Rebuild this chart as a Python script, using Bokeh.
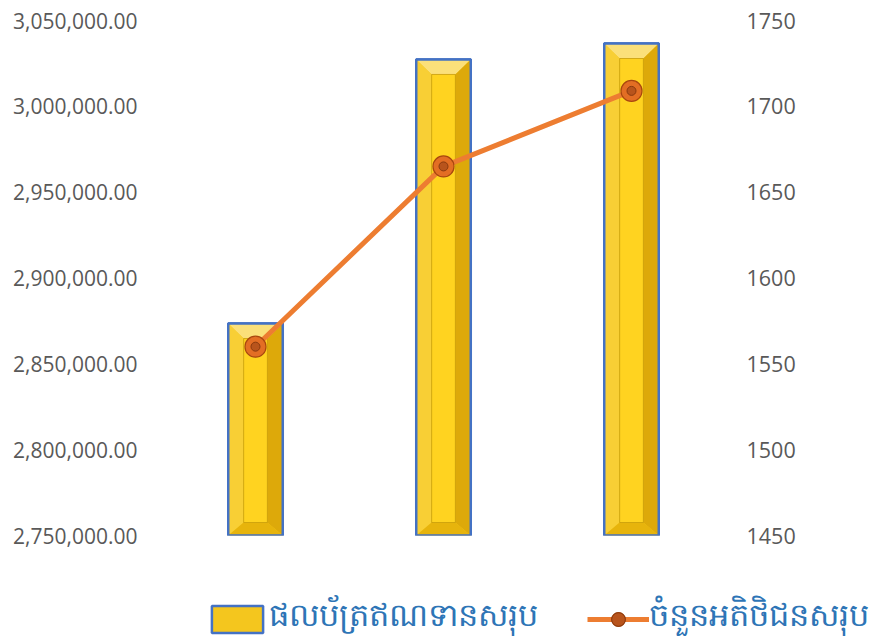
from bokeh.plotting import figure
from bokeh.models import (Range1d, LinearAxis, FixedTicker, NumeralTickFormatter,
                          Legend, LegendItem)
from bokeh.layouts import column
from bokeh.embed import file_html
from bokeh.resources import INLINE

# ---- data ----
categories = ["1", "2", "3"]
credit_portfolio = [2873500, 3027300, 3036600]   # ផលប័ត្រឥណទានសរុប
customers = [1560, 1665, 1709]                    # ចំនួនអតិថិជនសរុប
left_ticks = [2750000, 2800000, 2850000, 2900000, 2950000, 3000000, 3050000]
right_ticks = [1450, 1500, 1550, 1600, 1650, 1700, 1750]
label_bars = "ផលប័ត្រឥណទានសរុប"
label_line = "ចំនួនអតិថិជនសរុប"

FONT = "Open Sans"
GREY = "#595959"
BAR_FILL, BAR_LINE = "#F4C61E", "#4472C4"
LINE_COL = "#ED7D31"

AXIS_H = 515
TOP, BOTTOM = 20, 14
l_span = left_ticks[-1] - left_ticks[0]
xs = list(range(len(categories)))
base = left_ticks[0]

p = figure(x_range=Range1d(-0.5, len(categories) - 0.5),
           y_range=Range1d(left_ticks[0], left_ticks[-1]),
           frame_width=564, frame_height=AXIS_H,
           min_border_left=161, min_border_right=148,
           min_border_top=TOP, min_border_bottom=BOTTOM,
           output_backend="svg", toolbar_location=None,
           background_fill_color="white", border_fill_color="white")
p.frame_align = False
p.outline_line_color = None
p.xgrid.visible = False
p.ygrid.visible = False
p.xaxis.visible = False

ya = p.yaxis[0]
ya.ticker = FixedTicker(ticks=left_ticks)
ya.formatter = NumeralTickFormatter(format="0,0.00")

p.extra_y_ranges = {"cust": Range1d(right_ticks[0], right_ticks[-1])}
ra = LinearAxis(y_range_name="cust", ticker=FixedTicker(ticks=right_ticks))
p.add_layout(ra, "right")

for ax in (ya, ra):
    ax.axis_line_color = None
    ax.major_tick_line_color = None
    ax.minor_tick_line_color = None
    ax.major_label_text_font = FONT
    ax.major_label_text_font_size = "21px"
    ax.major_label_text_color = GREY
ya.major_label_standoff = 18
ra.major_label_standoff = 15
ra.major_label_text_font_size = "21.5px"

# ---- bars with bevel ----
w, wi = 0.145, 0.063
per_px = l_span / AXIS_H
pt, pb = 15 * per_px, 13 * per_px

def trap(kind):
    xs_l, ys_l = [], []
    for x, v in zip(xs, credit_portfolio):
        it, ib = v - pt, base + pb
        if kind == "top":
            xs_l.append([x - w, x + w, x + wi, x - wi]); ys_l.append([v, v, it, it])
        elif kind == "left":
            xs_l.append([x - w, x - wi, x - wi, x - w]); ys_l.append([v, it, ib, base])
        elif kind == "right":
            xs_l.append([x + w, x + wi, x + wi, x + w]); ys_l.append([v, it, ib, base])
        else:
            xs_l.append([x - w, x + w, x + wi, x - wi]); ys_l.append([base, base, ib, ib])
    return xs_l, ys_l

p.vbar(x=xs, top=credit_portfolio, bottom=base, width=2 * w,
       fill_color=BAR_FILL, line_color=BAR_LINE, line_width=2.5)
for kind, col in (("top", "#FBE07A"), ("left", "#F8CF35"),
                  ("right", "#DDA90A"), ("bottom", "#E7B40C")):
    tx, ty = trap(kind)
    p.patches(xs=tx, ys=ty, fill_color=col, line_color=None)
p.quad(left=[x - wi for x in xs], right=[x + wi for x in xs],
       top=[v - pt for v in credit_portfolio], bottom=base + pb,
       fill_color="#FFD320", line_color="#B88E05", line_width=1, line_alpha=0.6)
p.vbar(x=xs, top=credit_portfolio, bottom=base, width=2 * w,
       fill_color=None, line_color=BAR_LINE, line_width=2.5)

# ---- line ----
p.line(x=xs, y=customers, y_range_name="cust", line_color=LINE_COL, line_width=5)
p.scatter(x=xs, y=customers, y_range_name="cust", size=21,
          fill_color="#E36E24", line_color="#A9470F", line_width=1.2)
p.scatter(x=xs, y=customers, y_range_name="cust", size=9,
          fill_color="#B8541C", line_color="#8A3A0E", line_width=1)

# ---- legend strip (separate figure; key renderers hold no drawable point) ----
NAN = float("nan")
LEG_H = 636 - (TOP + AXIS_H + BOTTOM)
q = figure(width=873, height=LEG_H,
           x_range=Range1d(0, 1), y_range=Range1d(0, 1),
           output_backend="svg", toolbar_location=None,
           min_border=0, background_fill_color="white", border_fill_color="white")
q.frame_align = False
q.outline_line_color = None
q.axis.visible = False
q.grid.visible = False
lb = q.vbar(x=[NAN], top=[NAN], bottom=[NAN], width=0.1,
            fill_color=BAR_FILL, line_color=BAR_LINE, line_width=2.5)
ll = q.line(x=[NAN], y=[NAN], line_color=LINE_COL, line_width=5)
lm = q.scatter(x=[NAN], y=[NAN], size=22,
               fill_color="#E36E24", line_color="#A9470F", line_width=1.2)
ld = q.scatter(x=[NAN], y=[NAN], size=9,
               fill_color="#B8541C", line_color="#8A3A0E", line_width=1)

common = dict(orientation="horizontal", padding=0, label_standoff=0,
              border_line_color=None, background_fill_alpha=0,
              label_text_font_size="32px", label_text_color="#2E75B6",
              label_text_baseline="middle")
leg1 = Legend(items=[LegendItem(label=label_bars, renderers=[lb])],
              location=(205, -6), glyph_width=64, glyph_height=34, **common)
leg2 = Legend(items=[LegendItem(label=label_line, renderers=[ll, lm, ld])],
              location=(587, -6), glyph_width=62, glyph_height=34, **common)
q.add_layout(leg1, "center")
q.add_layout(leg2, "center")

open("out.html", "w").write(file_html(column(p, q, spacing=0), INLINE))
